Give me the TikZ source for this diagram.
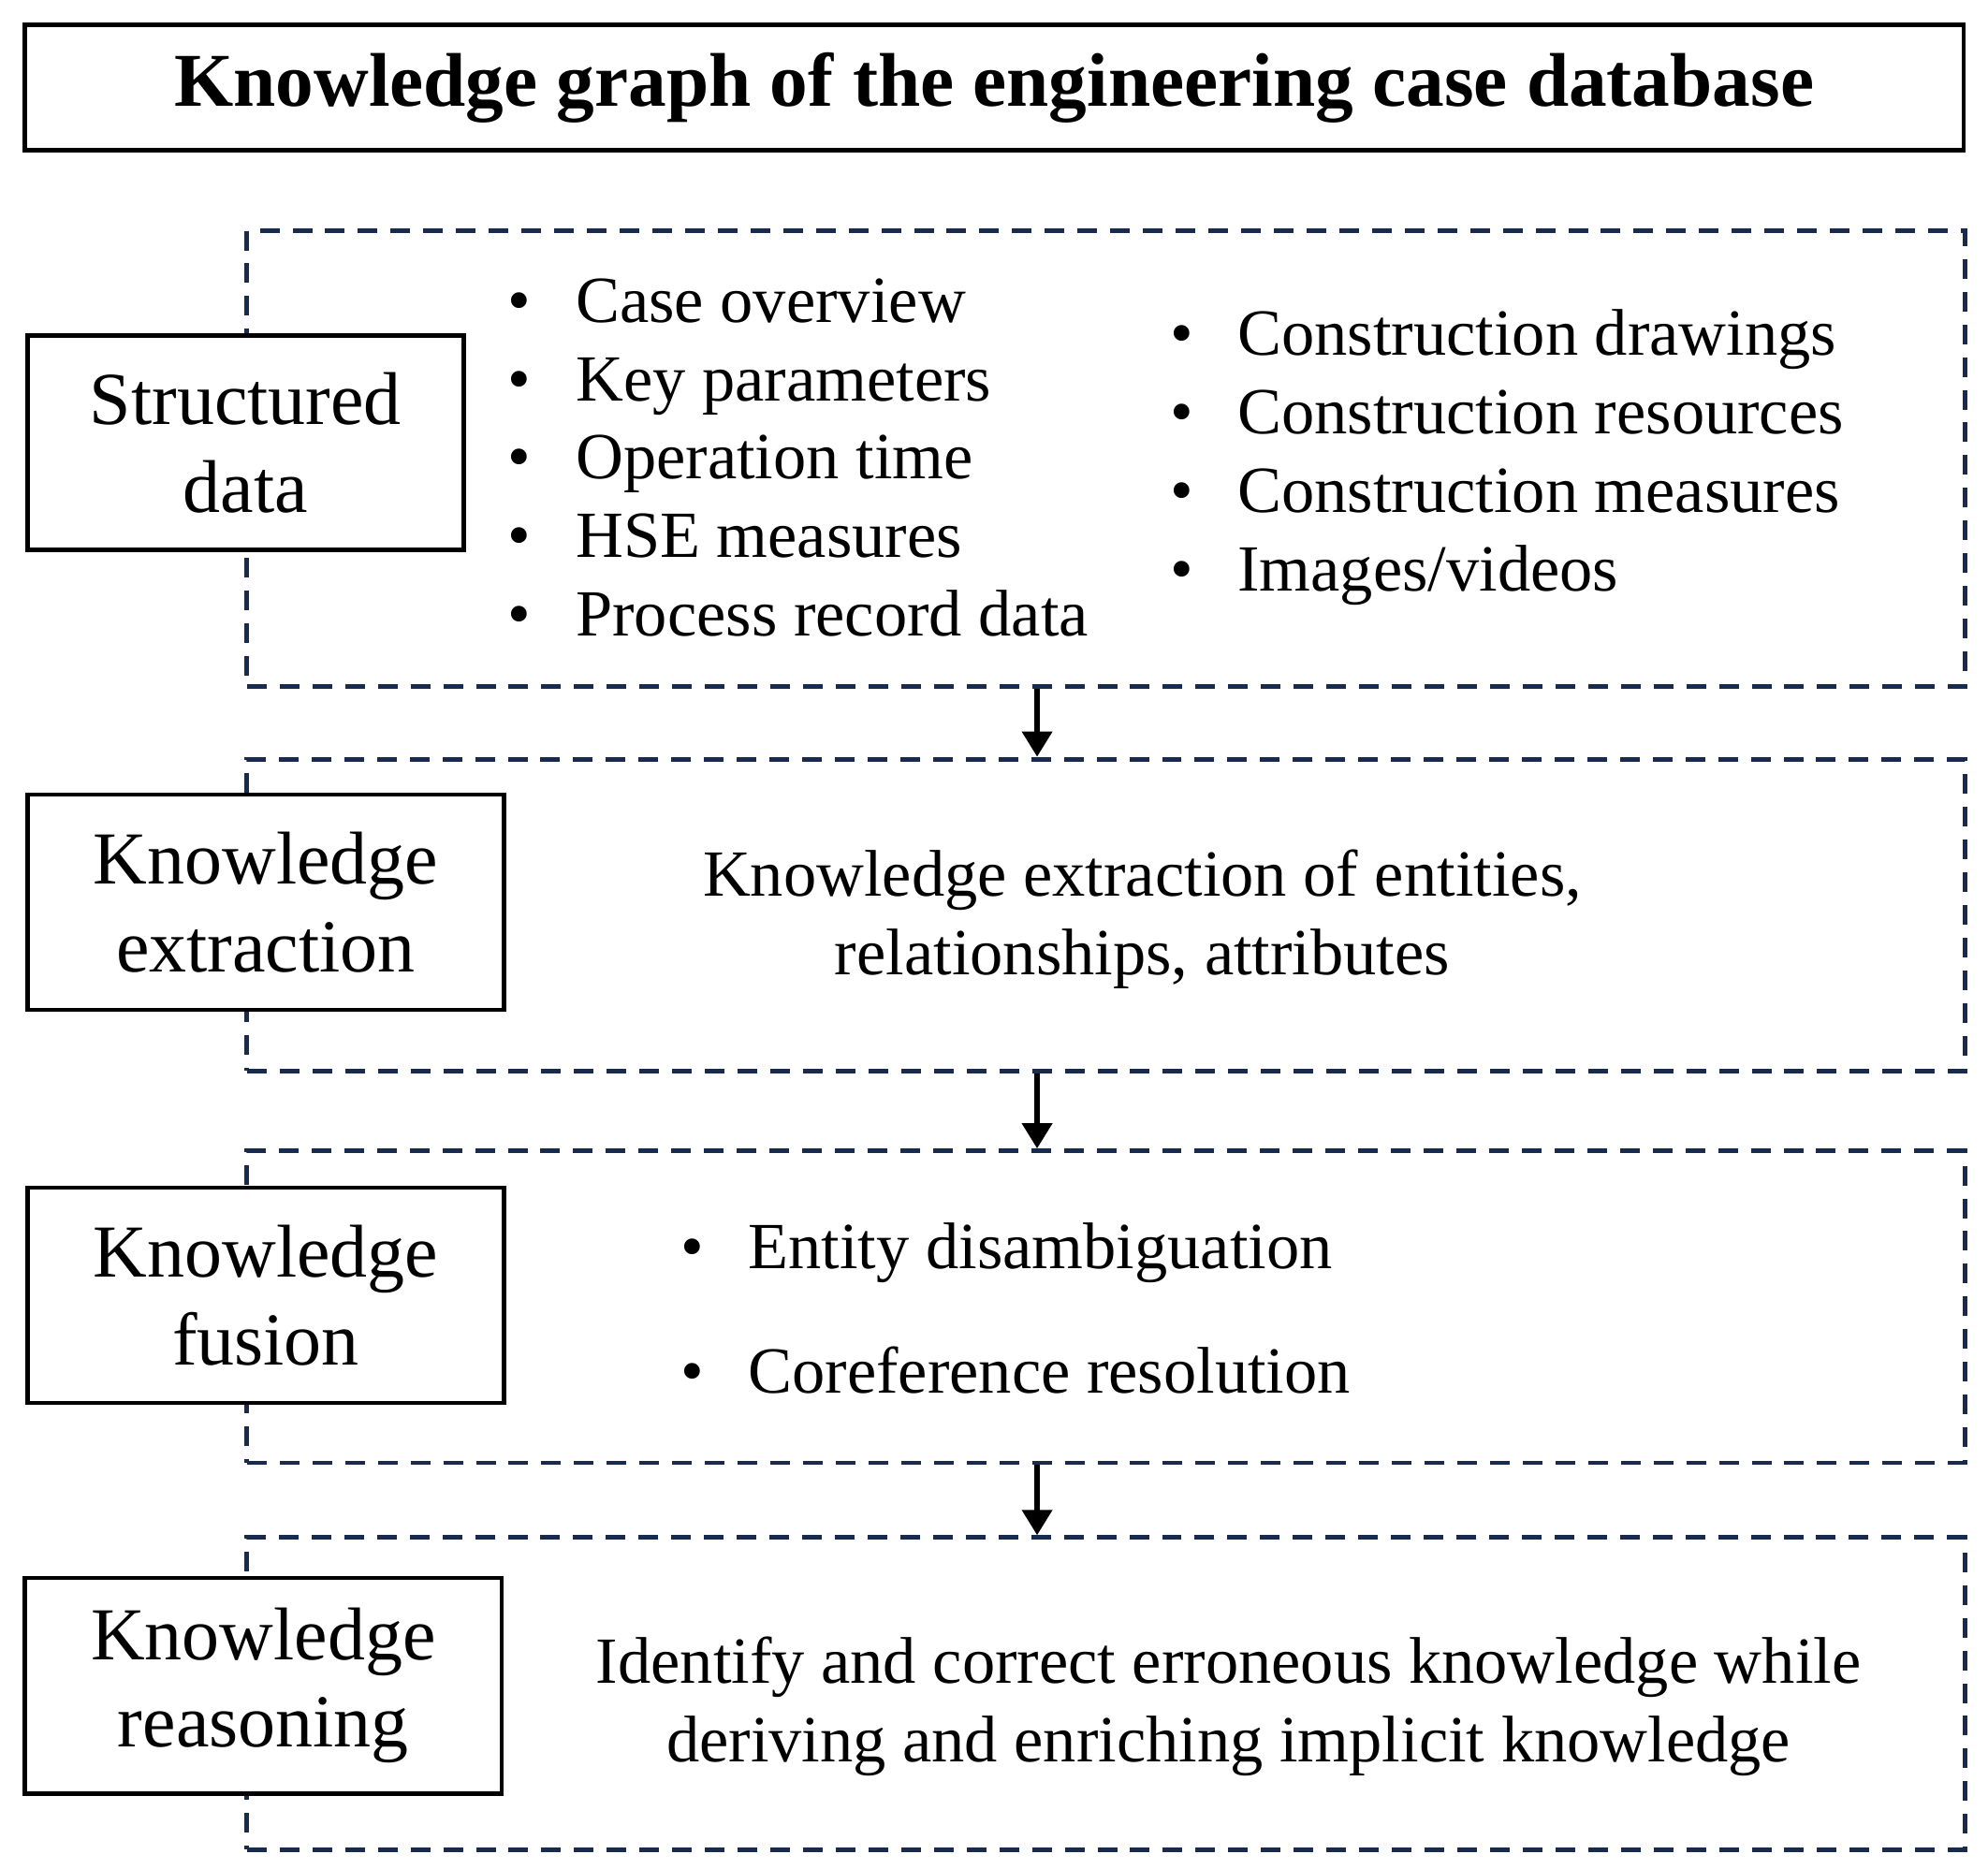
\documentclass[tikz,border=0pt]{standalone}
\usepackage{fontspec}
\setmainfont{Liberation Serif}
\usetikzlibrary{arrows.meta}
\definecolor{navy}{RGB}{24,43,79}
\begin{document}
\begin{tikzpicture}[x=1pt,y=-1pt,
  tbox/.style={draw=black, line width=3.3pt, inner sep=0pt, anchor=north west, font=\fontsize{60}{70}\selectfont\bfseries},
  dbox/.style={draw=navy, line width=3.6pt, dash pattern=on 15.5pt off 10.3pt, inner sep=0pt, anchor=north west},
  lbox/.style={draw=black, line width=3.3pt, fill=white, inner sep=0pt, anchor=north west, align=center, font=\fontsize{59}{69}\selectfont},
  btxt/.style={inner sep=0pt, anchor=west, align=left, font=\fontsize{52}{62}\selectfont},
  ctxt/.style={inner sep=0pt, align=center, font=\fontsize{52}{62}\selectfont},
  arr/.style={line width=4.8pt, -{Triangle[width=23pt,length=20pt]}}]
\useasboundingbox (0,0) rectangle (1568,1474);
% title
\node[tbox, minimum width=1529pt, minimum height=99pt] (title) at (18,18) {Knowledge graph of the engineering case database};
% dashed frames
\node[dbox, minimum width=1355pt, minimum height=360pt] (d1) at (193,180) {};
\node[dbox, minimum width=1355pt, minimum height=246pt] (d2) at (193,597) {};
\node[dbox, minimum width=1355pt, minimum height=246pt] (d3) at (193,906) {};
\node[dbox, minimum width=1355pt, minimum height=246pt] (d4) at (193,1211) {};
% label boxes
\node[lbox, minimum width=344pt, minimum height=169pt] (l1) at (20,263) {Structured\\data};
\node[lbox, minimum width=376pt, minimum height=170pt] (l2) at (20,625) {Knowledge\\extraction};
\node[lbox, minimum width=376pt, minimum height=170pt] (l3) at (20,935) {Knowledge\\fusion};
\node[lbox, minimum width=376pt, minimum height=170pt] (l4) at (18,1243) {Knowledge\\reasoning};
% contents
\node[btxt] (s1) at (400,361) {\makebox[54pt][l]{\textbullet}Case overview\\
\makebox[54pt][l]{\textbullet}Key parameters\\
\makebox[54pt][l]{\textbullet}Operation time\\
\makebox[54pt][l]{\textbullet}HSE measures\\
\makebox[54pt][l]{\textbullet}Process record data};
\node[btxt] (s2) at (923,361) {\makebox[53pt][l]{\textbullet}Construction drawings\\
\makebox[53pt][l]{\textbullet}Construction resources\\
\makebox[53pt][l]{\textbullet}Construction measures\\
\makebox[53pt][l]{\textbullet}Images/videos};
\node[ctxt] (e1) at (901,725) {Knowledge extraction of entities,\\relationships, attributes};
\node[btxt, font=\fontsize{52}{98}\selectfont] (f1) at (537,1032) {\makebox[53pt][l]{\textbullet}Entity disambiguation\\
\makebox[53pt][l]{\textbullet}Coreference resolution};
\node[ctxt] (r1) at (969,1346) {Identify and correct erroneous knowledge while\\deriving and enriching implicit knowledge};
% arrows
\coordinate (ax) at (818,0);
\draw[arr] (d1.south -| ax) -- (d2.north -| ax);
\draw[arr] (d2.south -| ax) -- (d3.north -| ax);
\draw[arr] (d3.south -| ax) -- (d4.north -| ax);
\end{tikzpicture}
\end{document}
